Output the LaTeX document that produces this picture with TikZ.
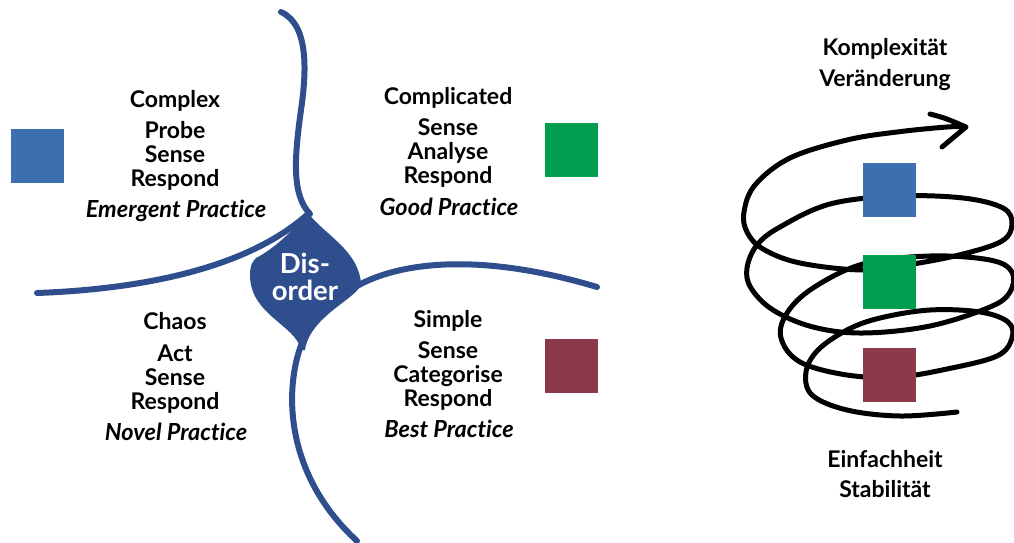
\documentclass[tikz,border=0pt]{standalone}
\usepackage{fontspec}
\setmainfont{Lato}[Ligatures={NoCommon,NoDiscretionary}]
\definecolor{cynblue}{HTML}{2F4E8E}
\definecolor{sqblue}{HTML}{3C6EB0}
\definecolor{sqgreen}{HTML}{009E4F}
\definecolor{sqred}{HTML}{8A3A4A}
\begin{document}
\begin{tikzpicture}[x=1pt,y=-1pt,
  lbl/.style={anchor=base, font=\bfseries\fontsize{23}{27}\selectfont, inner sep=0pt},
  ilbl/.style={lbl, font=\bfseries\itshape\fontsize{23.5}{27}\selectfont},
  dlbl/.style={anchor=base, text=white, font=\bfseries\fontsize{27.5}{31}\selectfont, inner sep=0pt},
  cyn/.style={draw=cynblue, line width=6pt, line cap=round},
  sq/.style={minimum width=53pt, minimum height=54pt, inner sep=0pt, draw=none, anchor=north west},
  spiral/.style={draw=black, line width=5pt, line cap=round, line join=round}]
\useasboundingbox (0,0) rectangle (1014,543);
\begin{scope}
\clip (0,0) rectangle (1014,543);
% Disorder blob
\fill[cynblue] (308,213) .. controls (325,235) and (358,250) .. (361,283)
  .. controls (361,297) and (310,315) .. (305,350) -- (301,350)
  .. controls (296,325) and (250,315) .. (250,275)
  .. controls (250,266) and (252,262) .. (256,258)
  .. controls (272,250) and (292,232) .. (308,213) -- cycle;
% domain borders
\draw[cyn] (281,12) .. controls (310,25) and (306,75) .. (301,110)
  .. controls (294,160) and (292,195) .. (310,214);
\draw[cyn] (37,293) .. controls (120,290) and (240,275) .. (308,214);
\draw[cyn] (357,286) .. controls (400,262) and (480,252) .. (597,287);
\draw[cyn] (304,338) .. controls (285,380) and (280,470) .. (357,541);
% spiral
\draw[spiral] plot[smooth, tension=0.6] coordinates {
 (957,412) (900,416) (847,410) (812,395) (806,372) (818,350) (847,330) (880,318)
 (930,310) (980,312) (1008,322) (1012,338) (997,356) (947,369) (897,377) (847,375)
 (800,362) (781,338) (787,313) (813,288) (863,264) (930,256) (990,260) (1012,272)
 (1010,292) (990,307) (930,326) (863,333) (813,327) (773,310) (751,288) (747,268)
 (757,245) (780,227) (830,204) (897,196) (963,198) (1003,208) (1012,224) (1002,241)
 (963,254) (913,264) (863,270) (800,263) (763,249) (747,232) (744,212) (755,185)
 (790,158) (847,140) (897,132) (947,127) (965,127)};
\draw[spiral] (930,114) .. controls (945,118) .. (966,127) -- (942,147);
\end{scope}
% squares
\node[sq, fill=sqblue] (sqcx) at (11,129) {};
\node[sq, fill=sqgreen] (sqcd) at (545,123) {};
\node[sq, fill=sqred] (sqsp) at (545,339) {};
\node[sq, fill=sqblue] (sqa) at (863,163) {};
\node[sq, fill=sqgreen] (sqb) at (863,255) {};
\node[sq, fill=sqred] (sqc) at (863,348) {};
% Disorder
\node[dlbl] (dis1) at (305,273) {Dis-};
\node[dlbl] (dis2) at (305,300) {order};
% Complex
\node[lbl] (cx0) at (175,107) {Complex};
\node[lbl] (cx1) at (175,138) {Probe};
\node[lbl] (cx2) at (175,162) {Sense};
\node[lbl] (cx3) at (175,186) {Respond};
\node[ilbl] (cx4) at (176,217) {Emergent Practice};
% Complicated
\node[lbl] (cd0) at (448,104) {Complicated};
\node[lbl] (cd1) at (448,135) {Sense};
\node[lbl] (cd2) at (448,159) {Analyse};
\node[lbl] (cd3) at (448,183) {Respond};
\node[ilbl] (cd4) at (449,215) {Good Practice};
% Chaos
\node[lbl] (ch0) at (175,329) {Chaos};
\node[lbl] (ch1) at (175,361) {Act};
\node[lbl] (ch2) at (175,385) {Sense};
\node[lbl] (ch3) at (175,409) {Respond};
\node[ilbl] (ch4) at (176,440) {Novel Practice};
% Simple
\node[lbl] (sp0) at (448,327) {Simple};
\node[lbl] (sp1) at (448,358) {Sense};
\node[lbl] (sp2) at (448,382) {Categorise};
\node[lbl] (sp3) at (448,406) {Respond};
\node[ilbl] (sp4) at (449,437) {Best Practice};
% right labels
\node[lbl] (k1) at (885,56) {Komplexität};
\node[lbl] (k2) at (885,86) {Veränderung};
\node[lbl] (e1) at (885,467) {Einfachheit};
\node[lbl] (e2) at (885,497) {Stabilität};
\end{tikzpicture}
\end{document}
